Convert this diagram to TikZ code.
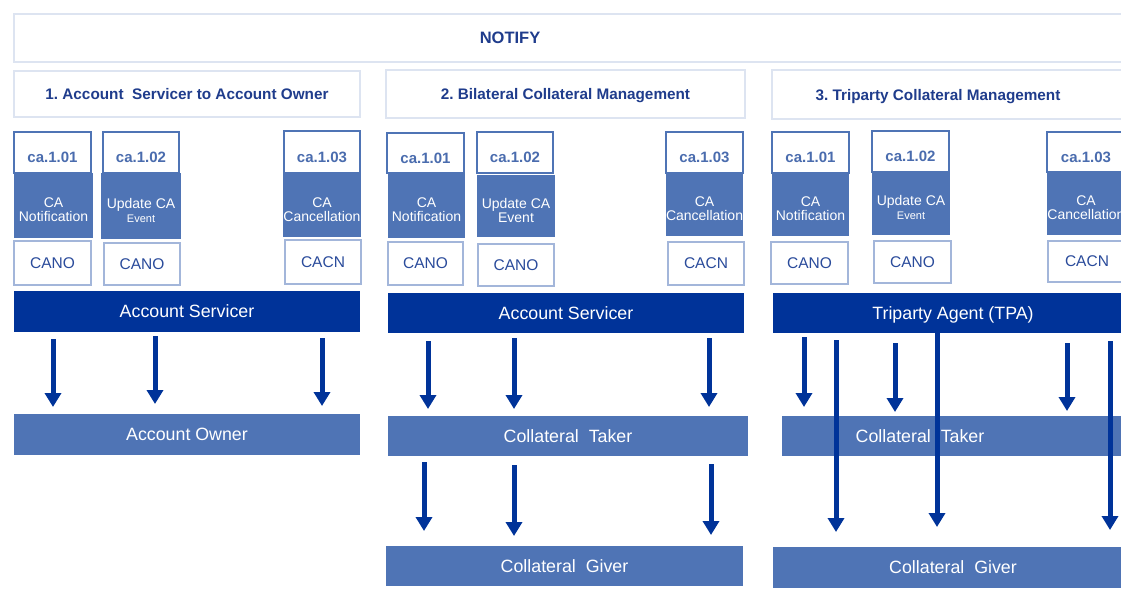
\documentclass[tikz,border=0pt]{standalone}
\usepackage{fontspec}
\setmainfont{Liberation Sans}
\usetikzlibrary{arrows.meta,calc}
\frenchspacing
\definecolor{dbar}{HTML}{003399}
\definecolor{mfill}{HTML}{4F74B5}
\definecolor{hdrtxt}{HTML}{1F3C8C}
\definecolor{catxt}{HTML}{4A6CAE}
\definecolor{cntxt}{HTML}{2A4B9B}
\definecolor{cnbord}{HTML}{A3B6DA}
\definecolor{secbord}{HTML}{DDE4F1}
\tikzset{
  wh/.style 2 args={minimum width=#1pt,minimum height=#2pt},
  base/.style={anchor=north west,inner sep=0pt,outer sep=0pt},
  secbox/.style={base,draw=secbord,line width=2pt,fill=white,text=hdrtxt,text depth=0pt,font=\bfseries\fontsize{15.3}{18}\selectfont},
  hdrtext/.style={inner sep=0pt,text=hdrtxt,text depth=0pt,font=\bfseries\fontsize{15.3}{18}\selectfont},
  codebox/.style={base,draw=mfill,line width=2pt,fill=white,text=catxt,text depth=0pt,font=\bfseries\fontsize{15}{18}\selectfont},
  msgbox/.style={base,fill=mfill,text=white,font=\fontsize{14}{14}\selectfont},
  cnbox/.style={base,draw=cnbord,line width=2pt,fill=white,text=cntxt,text depth=0pt,font=\fontsize{15.5}{18}\selectfont},
  darkbar/.style={base,fill=dbar,text=white,text depth=0pt,font=\fontsize{17.8}{20}\selectfont},
  midbar/.style={base,fill=mfill,text=white,text depth=0pt,font=\fontsize{17.8}{20}\selectfont},
  bartext/.style={inner sep=0pt,text=white,text depth=0pt,font=\fontsize{17.8}{20}\selectfont},
  arr/.style={draw=dbar,line width=5pt,-{Triangle[width=16pt,length=14pt]}}
}
\newcommand\smallev{\fontsize{11}{11}\selectfont}
\newcommand\lowered[1]{\raisebox{-5pt}[\height][\depth]{#1}}
\newcommand\twoline[2]{\raisebox{-6.5pt}[\height][\depth]{\begin{tabular}{@{}c@{}}#1\\#2\end{tabular}}}
\begin{document}
\begin{tikzpicture}[x=1pt,y=-1pt]
\useasboundingbox (0,0) rectangle (1121,596);
\clip (0,0) rectangle (1121,596);
% NOTIFY
\node[secbox,wh={1120}{48}] (notify) at (14,14) {};
\node[hdrtext,font=\bfseries\fontsize{16.5}{18}\selectfont] (notifyt) at (510,38) {NOTIFY};
% section headers
\node[secbox,wh={346}{46}] (h1) at (14,71) {1. Account\ \ Servicer to Account Owner};
\node[secbox,wh={359}{48}] (h2) at (386,70) {2. Bilateral Collateral Management};
\node[secbox,wh={360}{49}] (h3) at (772,70) {};
\node[hdrtext] (h3t) at (938,95) {3. Triparty Collateral Management};

% ---- section 1 ----
\node[codebox,wh={77}{41}] (s1a) at (14,132) {\lowered{ca.1.01}};
\node[msgbox,wh={79}{65}] (n1a) at (14,173) {\twoline{CA}{Notification}};
\node[cnbox,wh={77}{44}] (c1a) at (14,241) {CANO};
\node[codebox,wh={76}{41}] (s1b) at (103,132) {\lowered{ca.1.02}};
\node[msgbox,wh={80}{66}] (n1b) at (101,173) {\twoline{Update CA}{\smallev Event}};
\node[cnbox,wh={76}{42}] (c1b) at (104,243) {CANO};
\node[codebox,wh={76}{42}] (s1c) at (284,131) {\lowered{ca.1.03}};
\node[msgbox,wh={78}{64}] (n1c) at (283,173) {\twoline{CA}{Cancellation}};
\node[cnbox,wh={76}{44}] (c1c) at (285,240) {CACN};
\node[darkbar,wh={346}{41}] (as1) at (14,291) {Account Servicer};
\node[midbar,wh={346}{41}] (ao1) at (14,414) {Account Owner};

% ---- section 2 ----
\node[codebox,wh={77}{40}] (s2a) at (387,133) {\lowered{ca.1.01}};
\node[msgbox,wh={77}{65}] (n2a) at (388,173) {\twoline{CA}{Notification}};
\node[cnbox,wh={75}{43}] (c2a) at (388,242) {CANO};
\node[codebox,wh={76}{41}] (s2b) at (477,132) {\lowered{ca.1.02}};
\node[msgbox,wh={78}{62}] (n2b) at (477,175) {\twoline{Update CA}{Event}};
\node[cnbox,wh={76}{42}] (c2b) at (478,244) {CANO};
\node[codebox,wh={77}{41}] (s2c) at (666,132) {\lowered{ca.1.03}};
\node[msgbox,wh={77}{63}] (n2c) at (666,173) {\twoline{CA}{Cancellation}};
\node[cnbox,wh={76}{43}] (c2c) at (668,242) {CACN};
\node[darkbar,wh={356}{40}] (as2) at (388,293) {Account Servicer};
\node[midbar,wh={360}{40}] (ct2) at (388,416) {Collateral\ \ Taker};
\node[midbar,wh={357}{40}] (cg2) at (386,546) {Collateral\ \ Giver};

% ---- section 3 ----
\node[codebox,wh={77}{41}] (s3a) at (772,132) {\lowered{ca.1.01}};
\node[msgbox,wh={77}{63}] (n3a) at (772,173) {\twoline{CA}{Notification}};
\node[cnbox,wh={77}{42}] (c3a) at (771,242) {CANO};
\node[codebox,wh={77}{41}] (s3b) at (872,131) {\lowered{ca.1.02}};
\node[msgbox,wh={78}{63}] (n3b) at (872,172) {\twoline{Update CA}{\smallev Event}};
\node[cnbox,wh={77}{42}] (c3b) at (874,241) {CANO};
\node[codebox,wh={78}{40}] (s3c) at (1047,132) {\lowered{ca.1.03}};
\node[msgbox,wh={78}{63}] (n3c) at (1047,172) {\twoline{CA}{Cancellation}};
\node[cnbox,wh={78}{41}] (c3c) at (1048,241) {CACN};
\node[darkbar,wh={360}{40}] (tpa) at (773,293) {Triparty Agent (TPA)};
\node[midbar,wh={360}{40}] (ct3) at (782,416) {};
\node[bartext] (ct3t) at (920,436) {Collateral\ \ Taker};
\node[midbar,wh={360}{41}] (cg3) at (773,547) {Collateral\ \ Giver};

% ---- arrows section 1 ----
\coordinate (p11) at ($(as1.south west)+(39,0)$);
\coordinate (p12) at ($(as1.south west)+(141,0)$);
\coordinate (p13) at ($(as1.south west)+(308,0)$);
\draw[arr,shorten <=7pt,shorten >=7pt] (p11) -- (p11 |- ao1.north);
\draw[arr,shorten <=4pt,shorten >=10pt] (p12) -- (p12 |- ao1.north);
\draw[arr,shorten <=6pt,shorten >=8pt] (p13) -- (p13 |- ao1.north);

% ---- arrows section 2 ----
\coordinate (p21) at ($(as2.south west)+(40,0)$);
\coordinate (p22) at ($(as2.south west)+(126,0)$);
\coordinate (p23) at ($(as2.south west)+(321,0)$);
\draw[arr,shorten <=8pt,shorten >=7pt] (p21) -- (p21 |- ct2.north);
\draw[arr,shorten <=5pt,shorten >=7pt] (p22) -- (p22 |- ct2.north);
\draw[arr,shorten <=5pt,shorten >=9pt] (p23) -- (p23 |- ct2.north);
\coordinate (q21) at ($(ct2.south west)+(36,0)$);
\coordinate (q22) at ($(ct2.south west)+(126,0)$);
\coordinate (q23) at ($(ct2.south west)+(323,0)$);
\draw[arr,shorten <=6pt,shorten >=15pt] (q21) -- (q21 |- cg2.north);
\draw[arr,shorten <=9pt,shorten >=10pt] (q22) -- (q22 |- cg2.north);
\draw[arr,shorten <=8pt,shorten >=11pt] (q23) -- (q23 |- cg2.north);

% ---- arrows section 3 ----
\coordinate (p31) at ($(tpa.south west)+(31,0)$);
\coordinate (p32) at ($(tpa.south west)+(122,0)$);
\coordinate (p33) at ($(tpa.south west)+(294,0)$);
\draw[arr,shorten <=4pt,shorten >=9pt] (p31) -- (p31 |- ct3.north);
\draw[arr,shorten <=10pt,shorten >=4pt] (p32) -- (p32 |- ct3.north);
\draw[arr,shorten <=10pt,shorten >=5pt] (p33) -- (p33 |- ct3.north);
\coordinate (l31) at ($(tpa.south west)+(63,0)$);
\coordinate (l32) at ($(tpa.south west)+(164,0)$);
\coordinate (l33) at ($(tpa.south west)+(337,0)$);
\draw[arr,shorten <=7pt,shorten >=15pt] (l31) -- (l31 |- cg3.north);
\draw[arr,shorten <=0pt,shorten >=20pt] (l32) -- (l32 |- cg3.north);
\draw[arr,shorten <=8pt,shorten >=17pt] (l33) -- (l33 |- cg3.north);
\end{tikzpicture}
\end{document}
